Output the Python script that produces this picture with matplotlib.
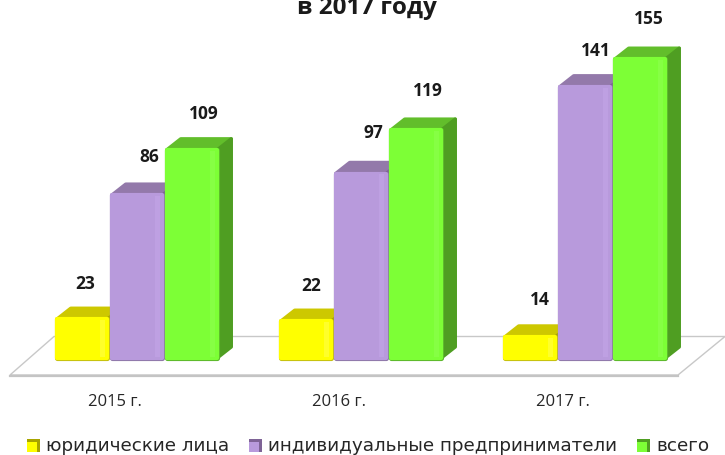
import matplotlib
matplotlib.use("Agg")
import matplotlib.pyplot as plt
import matplotlib.patheffects as pe
import numpy as np
from matplotlib.patches import Polygon, Rectangle

plt.rcParams['font.family'] = ['Open Sans', 'DejaVu Sans']

years = ['2015 г.', '2016 г.', '2017 г.']
series_names = ['юридические лица', 'индивидуальные предприниматели', 'всего']
legal = [23, 22, 14]
individual = [86, 97, 141]
total = [109, 119, 155]
title = 'в 2017 году'

W, H = 725, 455
PX_X = 224.0           # pixels per category
PX_Y = 1.97            # pixels per unit
X0, Y0 = 137.0, 364.6  # pixel of category 0 / value 0
BASE = 3.4             # floor level of the bars, in value units

fig = plt.figure(figsize=(W/100, H/100), dpi=100, facecolor='white')
ax = fig.add_axes([0, 0, 1, 1])
ax.set_xlim((0 - X0)/PX_X, (W - X0)/PX_X)
ax.set_ylim((Y0 - H)/PX_Y, Y0/PX_Y)
ax.patch.set_visible(False)
for s in ax.spines.values():
    s.set_visible(False)
ax.set_yticks([])

def px(x, y):
    return (x - X0)/PX_X, (Y0 - y)/PX_Y

# floor
floor = Polygon([px(10, 375), px(54, 336.5), px(725, 336.5), px(678, 375)],
                closed=True, facecolor='white', edgecolor='#c8c8c8', lw=1.0, zorder=1)
ax.add_patch(floor)
ax.plot(*zip(px(10, 375.5), px(678, 375.5)), color='#c4c4c4', lw=1.6, zorder=1.1)

bw = 50.5/PX_X
step = 55/PX_X
dx, dy = 14/PX_X, 11/PX_Y
styles = [
    dict(front='#FFFF00', top='#CDC800', side='#A8A400', edge='#C4BE10', hi='#FFFF2A',
         lab=[3, 5, 10], lift=[35, 35, 37]),
    dict(front='#B89ADC', top='#9379AA', side='#7E6396', edge='#8E78A8', hi='#BEA0E2',
         lab=[12, 12, 11], lift=[38, 41, 36]),
    dict(front='#7DFF36', top='#62BE2B', side='#4F9E22', edge='#5CB52C', hi='#86FF44',
         lab=[12, 12, 9], lift=[36, 39, 40]),
]
cats = np.arange(len(years))
for j, (vals, st) in enumerate(zip([legal, individual, total], styles)):
    xs = cats + (j - 1)*step
    z = 3 + j
    for x, v in zip(xs, vals):
        l, r = x - bw/2, x + bw/2
        ax.add_patch(Polygon([(l, v), (l + dx, v + dy), (r + dx, v + dy), (r, v)],
                             closed=True, fc=st['top'], ec=st['top'], lw=2.5, joinstyle='round', zorder=z))
        ax.add_patch(Polygon([(r, BASE), (r + dx, BASE + dy), (r + dx, v + dy), (r, v)],
                             closed=True, fc=st['side'], ec=st['side'], lw=2.5, joinstyle='round', zorder=z))
    heights = np.array(vals) - BASE
    bars = ax.bar(xs, heights, bottom=BASE, width=bw, color=st['front'], edgecolor=st['front'],
                  linewidth=3, joinstyle='round', zorder=z + 0.1)
    for b in bars:
        b.set_path_effects([pe.Stroke(linewidth=3.7, foreground=st['edge'], joinstyle='round'), pe.Normal()])
    ax.bar(xs + bw*0.40, heights - 1, width=bw*0.10, bottom=BASE + 0.5, color=st['hi'],
           linewidth=0, zorder=z + 0.2)
    for x, v, off, lift in zip(xs, vals, st['lab'], st['lift']):
        ax.annotate(str(v), (x, v), xytext=(off*0.72, lift*0.72), textcoords='offset points',
                    ha='center', va='center', fontsize=12.5, fontweight='bold',
                    color='#1a1a1a', zorder=10)

# category labels as real tick labels
ax.spines['bottom'].set_position(('data', 0))
ax.set_xticks(cats - 0.1, years)
ax.tick_params(axis='x', length=0, pad=21, labelsize=12, labelcolor='#262626')

# title, cut off by the top edge as in the reference
fig.text(367/W, 1 - 14.5/H, title, ha='center', va='baseline', fontsize=17.5,
         fontweight='bold', color='#1a1a1a')

# legend
legend_items = [(27, 46, 0), (249, 268, 1), (637, 656, 2)]
for xm, xt, k in legend_items:
    st = styles[k]
    tr = fig.transFigure
    fig.patches.append(Rectangle((xm/W, 1 - 452/H), 13/W, 13/H, transform=tr,
                                 fc=st['side'], ec='none', figure=fig))
    fig.patches.append(Rectangle((xm/W, 1 - 452/H), 10/W, 10/H, transform=tr,
                                 fc=st['front'], ec='none', figure=fig))
    fig.text(xt/W, 1 - 446/H, series_names[k], ha='left', va='center', fontsize=13.2,
             color='#262626', family=['DejaVu Sans'])

fig.savefig('out.png', dpi=100, facecolor='white')
